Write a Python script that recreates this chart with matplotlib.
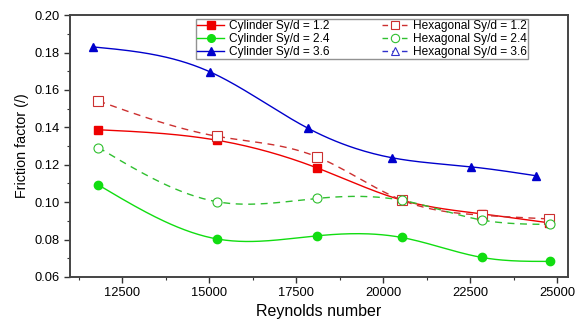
import numpy as np
import matplotlib
matplotlib.use("Agg")
import matplotlib.pyplot as plt
from matplotlib.ticker import MultipleLocator

plt.rcParams.update({
    "font.family": ["Liberation Sans", "DejaVu Sans"],
    "font.size": 8,
})

# --- Data ---
re_cyl_12 = [11820, 15230, 18100, 20530, 22840, 24770]
f_cyl_12 = [0.1387, 0.1331, 0.1183, 0.1011, 0.0937, 0.0889]

re_cyl_24 = [11820, 15230, 18110, 20530, 22840, 24790]
f_cyl_24 = [0.1092, 0.0803, 0.0820, 0.0811, 0.0704, 0.0683]

re_cyl_36 = [11670, 15020, 17850, 20260, 22510, 24390]
f_cyl_36 = [0.1830, 0.1697, 0.1394, 0.1237, 0.1189, 0.1141]

re_hex_12 = [11820, 15230, 18100, 20530, 22840, 24770]
f_hex_12 = [0.1541, 0.1352, 0.1242, 0.1011, 0.0930, 0.0910]

re_hex_24 = [11820, 15230, 18110, 20530, 22840, 24790]
f_hex_24 = [0.1292, 0.1002, 0.1020, 0.1010, 0.0904, 0.0881]

labels_cyl = ["Cylinder Sy/d = 1.2", "Cylinder Sy/d = 2.4", "Cylinder Sy/d = 3.6"]
labels_hex = ["Hexagonal Sy/d = 1.2", "Hexagonal Sy/d = 2.4", "Hexagonal Sy/d = 3.6"]


def spline(x, y, n=200):
    # natural cubic spline through the points
    x = np.asarray(x, float)
    y = np.asarray(y, float)
    k = len(x)
    h = np.diff(x)
    A = np.zeros((k, k))
    b = np.zeros(k)
    A[0, 0] = A[-1, -1] = 1
    for i in range(1, k - 1):
        A[i, i - 1] = h[i - 1]
        A[i, i] = 2 * (h[i - 1] + h[i])
        A[i, i + 1] = h[i]
        b[i] = 6 * ((y[i + 1] - y[i]) / h[i] - (y[i] - y[i - 1]) / h[i - 1])
    M = np.linalg.solve(A, b)
    xs = np.linspace(x[0], x[-1], n)
    idx = np.clip(np.searchsorted(x, xs) - 1, 0, k - 2)
    x0, x1 = x[idx], x[idx + 1]
    hh = x1 - x0
    t0 = x1 - xs
    t1 = xs - x0
    ys = (M[idx] * t0 ** 3 + M[idx + 1] * t1 ** 3) / (6 * hh) \
        + (y[idx] / hh - M[idx] * hh / 6) * t0 \
        + (y[idx + 1] / hh - M[idx + 1] * hh / 6) * t1
    return xs, ys


fig = plt.figure(figsize=(5.77, 3.22), dpi=100)
ax = fig.add_axes([0.121, 0.140, 0.863, 0.813])

solid = [
    (re_cyl_12, f_cyl_12, "#ee0000", "s"),
    (re_cyl_24, f_cyl_24, "#11dd11", "o"),
    (re_cyl_36, f_cyl_36, "#0000cc", "^"),
]
dashed = [
    (re_hex_12, f_hex_12, "#cc3030", "s"),
    (re_hex_24, f_hex_24, "#30c030", "o"),
]

handles = []
for (x, y, c, m), lab in zip(solid, labels_cyl):
    xs, ys = spline(x, y)
    ax.plot(xs, ys, color=c, lw=1.0)
    ax.plot(x, y, ls="none", marker=m, color=c, ms=6)
    h, = ax.plot([], [], color=c, lw=1.0, marker=m, ms=5.5, label=lab)
    handles.append(h)

hex_colors = ["#cc3030", "#30c030", "#3030cc"]
for (x, y, c, m) in dashed:
    xs, ys = spline(x, y)
    ax.plot(xs, ys, color=c, lw=1.0, ls=(0, (5, 4)))
    ax.plot(x, y, ls="none", marker=m, mfc="white", mec=c, mew=0.8, ms=6.5)

for c, m, lab in zip(hex_colors, ["s", "o", "^"], labels_hex):
    h, = ax.plot([], [], color=c, lw=1.0, ls=(0, (4, 3)), marker=m,
                 mfc="white", mec=c, mew=0.8, ms=6, label=lab)
    handles.append(h)

ax.set_xlim(11000, 25300)
ax.set_ylim(0.06, 0.20)
ax.xaxis.set_major_locator(MultipleLocator(2500))
ax.xaxis.set_minor_locator(MultipleLocator(1250))
ax.yaxis.set_major_locator(MultipleLocator(0.02))
ax.yaxis.set_minor_locator(MultipleLocator(0.01))
ax.yaxis.set_major_formatter(plt.FormatStrFormatter("%.2f"))
ax.tick_params(which="both", direction="out", color="#333333", labelsize=9.3)
ax.tick_params(which="major", length=4, width=1)
ax.tick_params(which="minor", length=2.5, width=0.8)
for s in ax.spines.values():
    s.set_linewidth(1.4)
    s.set_color("#444444")

ax.set_xlabel("Reynolds number", fontsize=11.5, labelpad=3)
ax.set_ylabel("Friction factor (/)", fontsize=10.3)

ax.legend(handles=handles, ncol=2, loc="upper right", bbox_to_anchor=(0.92, 0.985),
          fontsize=8.6, frameon=True, fancybox=False, edgecolor="#777777",
          handlelength=2.2, columnspacing=4.4, borderpad=0.12, labelspacing=0.05,
          handletextpad=0.4, borderaxespad=0)

fig.savefig("out.png", dpi=100)
